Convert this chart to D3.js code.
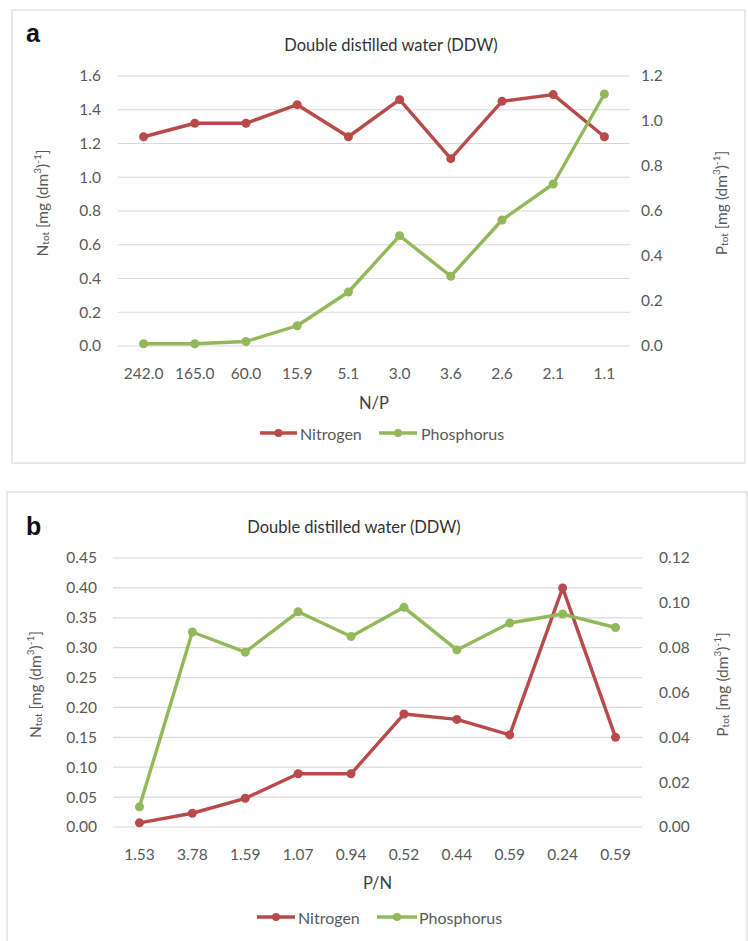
<!DOCTYPE html>
<html>
<head>
<meta charset="utf-8">
<script src="https://cdn.jsdelivr.net/npm/d3@7"></script>
<style>
  html, body { margin: 0; padding: 0; background: #fff; }
  svg { display: block; font-family: Lato, "Open Sans", sans-serif; }
</style>
</head>
<body>
<svg id="chart" width="748" height="941"></svg>
<script>
// ---- Data ----
const catsA = ["242.0", "165.0", "60.0", "15.9", "5.1", "3.0", "3.6", "2.6", "2.1", "1.1"];
const nitrogenA = [1.24, 1.32, 1.32, 1.43, 1.24, 1.46, 1.11, 1.45, 1.49, 1.24];
const phosphorusA = [0.01, 0.01, 0.02, 0.09, 0.24, 0.49, 0.31, 0.56, 0.72, 1.12];
const leftTicksA = [0, 0.2, 0.4, 0.6, 0.8, 1.0, 1.2, 1.4, 1.6];
const rightTicksA = [0, 0.2, 0.4, 0.6, 0.8, 1.0, 1.2];

const catsB = ["1.53", "3.78", "1.59", "1.07", "0.94", "0.52", "0.44", "0.59", "0.24", "0.59"];
const nitrogenB = [0.007, 0.023, 0.048, 0.089, 0.089, 0.189, 0.180, 0.154, 0.400, 0.150];
const phosphorusB = [0.009, 0.087, 0.078, 0.096, 0.085, 0.098, 0.079, 0.091, 0.095, 0.089];
const leftTicksB = [0, 0.05, 0.10, 0.15, 0.20, 0.25, 0.30, 0.35, 0.40, 0.45];
const rightTicksB = [0, 0.02, 0.04, 0.06, 0.08, 0.10, 0.12];

const seriesNames = ["Nitrogen", "Phosphorus"];
const title = "Double distilled water (DDW)";

// ---- Styles ----
const colN = "#b94a4a";
const colP = "#93b85a";
const gridCol = "#d9d9d9";
const textCol = "#595959";
const tickFont = 15.5;

const svg = d3.select("#chart");

function drawPanel(cfg) {
  const g = svg.append("g");
  // frame
  g.append("rect")
    .attr("x", cfg.frame[0]).attr("y", cfg.frame[1])
    .attr("width", cfg.frame[2]).attr("height", cfg.frame[3])
    .attr("fill", "#fff").attr("stroke", "#d9d9d9").attr("stroke-width", 1.2);

  // panel letter
  g.append("text").attr("x", cfg.letterPos[0]).attr("y", cfg.letterPos[1])
    .attr("font-family", "Liberation Sans, Arial, sans-serif")
    .attr("font-weight", "bold").attr("font-size", 25).attr("fill", "#111")
    .text(cfg.letter);

  // title
  g.append("text").attr("x", cfg.titlePos[0]).attr("y", cfg.titlePos[1])
    .attr("text-anchor", "middle").attr("dominant-baseline", "central")
    .attr("font-size", 16.5).attr("fill", "#333").text(title);

  const x = d3.scaleBand().domain(d3.range(cfg.cats.length)).range(cfg.xRange);
  const yL = d3.scaleLinear().domain(cfg.leftDomain).range(cfg.yRange);
  const yR = d3.scaleLinear().domain(cfg.rightDomain).range(cfg.yRange);

  // gridlines
  g.append("g").selectAll("line").data(cfg.leftTicks).join("line")
    .attr("x1", cfg.xRange[0]).attr("x2", cfg.xRange[1])
    .attr("y1", d => yL(d)).attr("y2", d => yL(d))
    .attr("stroke", gridCol).attr("stroke-width", 1.2);

  // left axis
  const axL = g.append("g").attr("transform", `translate(${cfg.leftTickX},0)`)
    .call(d3.axisLeft(yL).tickValues(cfg.leftTicks).tickSize(0).tickPadding(0)
      .tickFormat(d3.format(cfg.leftFmt)));
  axL.select(".domain").remove();
  axL.selectAll("text").attr("font-size", tickFont).attr("fill", textCol)
    .attr("font-family", "Lato, sans-serif");

  // right axis
  const axR = g.append("g").attr("transform", `translate(${cfg.rightTickX},0)`)
    .call(d3.axisRight(yR).tickValues(cfg.rightTicks).tickSize(0).tickPadding(0)
      .tickFormat(d3.format(cfg.rightFmt)));
  axR.select(".domain").remove();
  axR.selectAll("text").attr("font-size", tickFont).attr("fill", textCol)
    .attr("font-family", "Lato, sans-serif");

  // bottom axis
  const axB = g.append("g").attr("transform", `translate(0,${cfg.xLabelY})`)
    .call(d3.axisBottom(x).tickSize(0).tickPadding(0).tickFormat(i => cfg.cats[i]));
  axB.select(".domain").remove();
  axB.selectAll("text").attr("font-size", tickFont).attr("fill", textCol)
    .attr("dy", "0.32em").attr("font-family", "Lato, sans-serif");

  // x title
  g.append("text").attr("x", (cfg.xRange[0] + cfg.xRange[1]) / 2).attr("y", cfg.xTitleY)
    .attr("text-anchor", "middle").attr("dominant-baseline", "central")
    .attr("font-size", 16.5).attr("fill", "#404040").text(cfg.xTitle);

  // y titles
  function yTitle(xp, letter) {
    const cy = (cfg.yRange[0] + cfg.yRange[1]) / 2 - 8;
    const t = g.append("text")
      .attr("transform", `translate(${xp},${cy}) rotate(-90)`)
      .attr("text-anchor", "middle").attr("dominant-baseline", "central")
      .attr("font-size", 15.5).attr("fill", textCol);
    t.append("tspan").text(letter);
    t.append("tspan").attr("font-size", 10).attr("dy", 3).text("tot");
    t.append("tspan").attr("dy", -3).text(" [mg (dm");
    t.append("tspan").attr("font-size", 10).attr("dy", -5).text("3");
    t.append("tspan").attr("dy", 5).text(")");
    t.append("tspan").attr("font-size", 10).attr("dy", -5).text("-1");
    t.append("tspan").attr("dy", 5).text("]");
  }
  yTitle(cfg.leftTitleX, "N");
  yTitle(cfg.rightTitleX, "P");

  // series
  const series = [
    { vals: cfg.nitrogen, scale: yL, color: colN },
    { vals: cfg.phosphorus, scale: yR, color: colP }
  ];
  [0, 1].forEach(k => {
    const s = series[k];
    const line = d3.line().x((d, i) => x(i) + x.bandwidth() / 2).y(d => s.scale(d));
    g.append("path").datum(s.vals).attr("d", line)
      .attr("fill", "none").attr("stroke", s.color).attr("stroke-width", 3.4)
      .attr("stroke-linejoin", "round");
    g.append("g").selectAll("circle").data(s.vals).join("circle")
      .attr("cx", (d, i) => x(i) + x.bandwidth() / 2).attr("cy", d => s.scale(d))
      .attr("r", 4.5).attr("fill", s.color);
  });

  // legend
  const lg = g.append("g");
  [colN, colP].forEach((c, k) => {
    const L = cfg.legend[k];
    lg.append("line").attr("x1", L[0]).attr("x2", L[1])
      .attr("y1", cfg.legendY).attr("y2", cfg.legendY)
      .attr("stroke", c).attr("stroke-width", 3.4);
    lg.append("circle").attr("cx", (L[0] + L[1]) / 2).attr("cy", cfg.legendY)
      .attr("r", 4).attr("fill", c);
    lg.append("text").attr("x", L[2]).attr("y", cfg.legendY)
      .attr("dominant-baseline", "central").attr("font-size", 16)
      .attr("fill", textCol).text(seriesNames[k]);
  });
}

drawPanel({
  frame: [12, 10, 733, 453],
  letter: "a", letterPos: [26, 42],
  titlePos: [391, 45],
  cats: catsA, nitrogen: nitrogenA, phosphorus: phosphorusA,
  leftTicks: leftTicksA, rightTicks: rightTicksA,
  leftDomain: [0, 1.6], rightDomain: [0, 1.2],
  leftFmt: ".1f", rightFmt: ".1f",
  xRange: [118, 630], yRange: [346, 76],
  leftTickX: 101, rightTickX: 641,
  xLabelY: 374, xTitleY: 403, xTitle: "N/P",
  leftTitleX: 42, rightTitleX: 721,
  legendY: 433, legend: [[260, 297, 300], [379, 417, 421]]
});

drawPanel({
  frame: [7, 492, 740, 470],
  letter: "b", letterPos: [26, 535],
  titlePos: [354, 527],
  cats: catsB, nitrogen: nitrogenB, phosphorus: phosphorusB,
  leftTicks: leftTicksB, rightTicks: rightTicksB,
  leftDomain: [0, 0.45], rightDomain: [0, 0.12],
  leftFmt: ".2f", rightFmt: ".2f",
  xRange: [113, 642], yRange: [827, 558],
  leftTickX: 97, rightTickX: 659,
  xLabelY: 855, xTitleY: 883, xTitle: "P/N",
  leftTitleX: 35, rightTitleX: 722,
  legendY: 917, legend: [[257, 295, 298], [377, 417, 419]]
});
</script>
</body>
</html>
